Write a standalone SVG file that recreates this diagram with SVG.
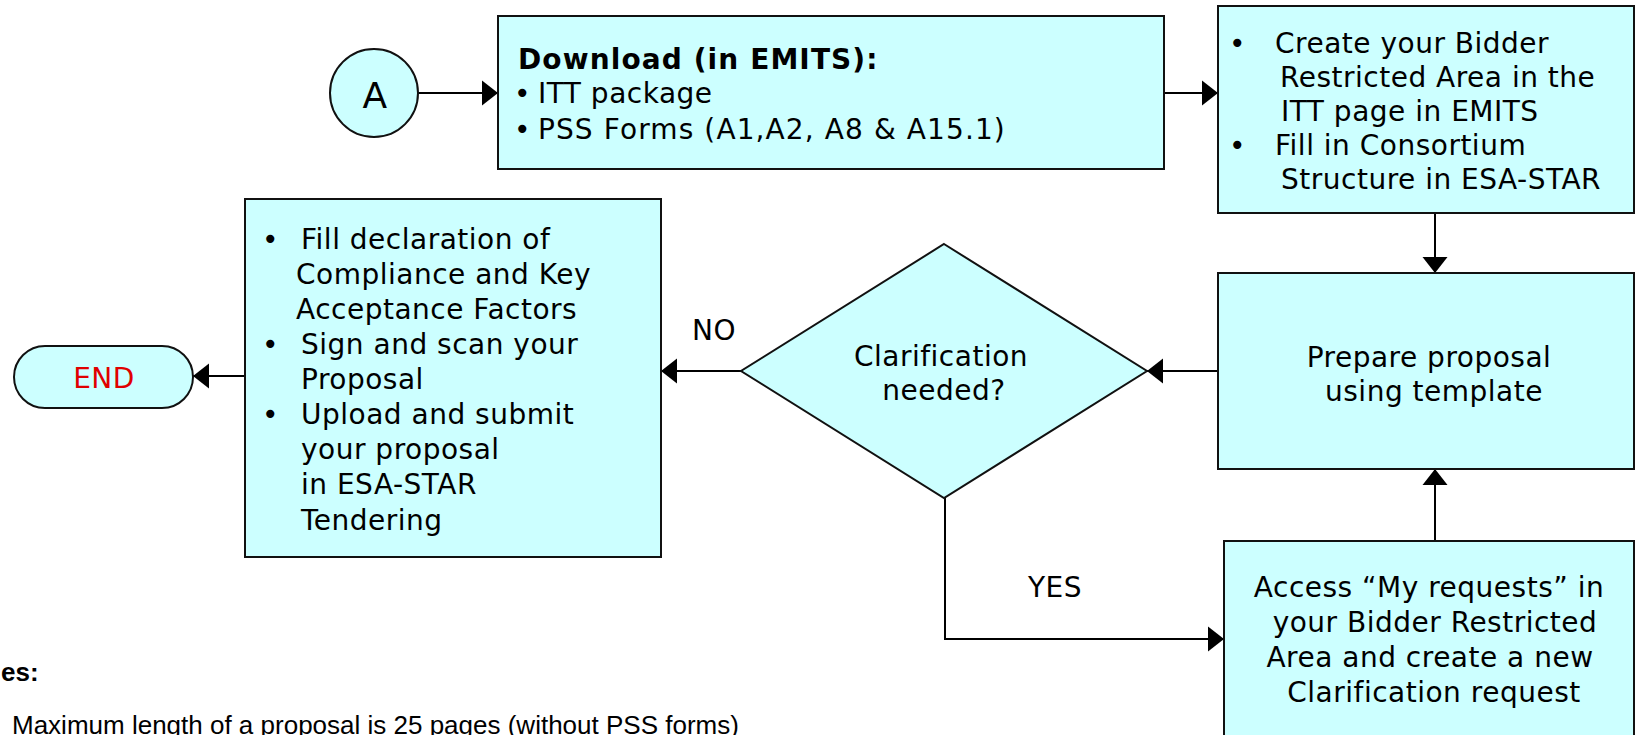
<svg xmlns="http://www.w3.org/2000/svg" width="1636" height="735" viewBox="0 0 1636 735">
<style>
.box{fill:#CCFFFF;stroke:#111;stroke-width:2}
.t{font-family:"DejaVu Sans",Verdana,sans-serif;font-size:28px;letter-spacing:0.5px;fill:#000}
.c{text-anchor:middle}
.b{font-weight:bold}
.w{letter-spacing:1.1px}
.con{fill:none;stroke:#000;stroke-width:2}
.n{font-family:"Liberation Sans",Arial,sans-serif;font-size:26px;fill:#000}
</style>
<defs>
<marker id="ah" viewBox="0 0 16 26" refX="16" refY="13" markerWidth="16" markerHeight="26" markerUnits="userSpaceOnUse" orient="auto">
<path d="M0,0.5 L16,13 L0,25.5 z" fill="#000"/>
</marker>
</defs>
<rect width="1636" height="735" fill="#fff"/>

<g id="connectors">
<line class="con" x1="418" y1="93" x2="498" y2="93" marker-end="url(#ah)"/>
<line class="con" x1="1164" y1="93" x2="1218" y2="93" marker-end="url(#ah)"/>
<line class="con" x1="1435" y1="213" x2="1435" y2="273" marker-end="url(#ah)"/>
<line class="con" x1="1218" y1="371" x2="1147" y2="371" marker-end="url(#ah)"/>
<line class="con" x1="741" y1="371" x2="661" y2="371" marker-end="url(#ah)"/>
<line class="con" x1="245" y1="376" x2="193" y2="376" marker-end="url(#ah)"/>
<polyline class="con" points="945,498 945,639 1224,639" marker-end="url(#ah)"/>
<line class="con" x1="1435" y1="541" x2="1435" y2="469" marker-end="url(#ah)"/>
<text class="t c" x="714" y="340">NO</text>
<text class="t c" x="1055" y="597">YES</text>
</g>

<g id="nodeA">
<circle class="box" cx="374" cy="93" r="44"/>
<text class="t c" x="375" y="108" style="font-size:36px">A</text>
</g>

<g id="download">
<rect class="box" x="498" y="16" width="666" height="153"/>
<text class="t b w" x="518" y="69">Download (in EMITS):</text>
<text class="t" x="514" y="103">•</text>
<text class="t" x="538" y="103">ITT package</text>
<text class="t" x="514" y="139">•</text>
<text class="t w" x="538" y="139">PSS Forms (A1,A2, A8 &amp; A15.1)</text>
</g>

<g id="bidderArea">
<rect class="box" x="1218" y="6" width="416" height="207"/>
<text class="t" x="1229" y="53">•</text>
<text class="t" x="1275" y="53">Create your Bidder</text>
<text class="t" x="1280" y="87">Restricted Area in the</text>
<text class="t" x="1281" y="121">ITT page in EMITS</text>
<text class="t" x="1229" y="155">•</text>
<text class="t" x="1275" y="155">Fill in Consortium</text>
<text class="t" x="1281" y="189">Structure in ESA-STAR</text>
</g>

<g id="prepare">
<rect class="box" x="1218" y="273" width="416" height="196"/>
<text class="t c" x="1429" y="367">Prepare proposal</text>
<text class="t c" x="1434" y="401">using template</text>
</g>

<g id="decision">
<polygon class="box" points="944,244 1147,371 944,498 741,371"/>
<text class="t c" x="941" y="366">Clarification</text>
<text class="t c" x="944" y="400">needed?</text>
</g>

<g id="submit">
<rect class="box" x="245" y="199" width="416" height="358"/>
<text class="t" x="262" y="249">•</text>
<text class="t" x="301" y="249">Fill declaration of</text>
<text class="t" x="296" y="284">Compliance and Key</text>
<text class="t" x="296" y="319">Acceptance Factors</text>
<text class="t" x="262" y="354">•</text>
<text class="t" x="301" y="354">Sign and scan your</text>
<text class="t" x="301" y="389">Proposal</text>
<text class="t" x="262" y="424">•</text>
<text class="t" x="301" y="424">Upload and submit</text>
<text class="t" x="301" y="459">your proposal</text>
<text class="t" x="301" y="494">in ESA-STAR</text>
<text class="t" x="301" y="530">Tendering</text>
</g>

<g id="end">
<rect class="box" x="14" y="346" width="179" height="62" rx="31" ry="31"/>
<text class="t c" x="104" y="388" style="fill:#E00000">END</text>
</g>

<g id="clarReq">
<rect class="box" x="1224" y="541" width="410" height="210"/>
<text class="t c" x="1429" y="597">Access “My requests” in</text>
<text class="t c" x="1435" y="632">your Bidder Restricted</text>
<text class="t c" x="1430" y="667">Area and create a new</text>
<text class="t c" x="1434" y="702">Clarification request</text>
</g>

<g id="notes">
<text class="n b" x="1" y="681">es:</text>
<text class="n" x="12" y="734">Maximum length of a proposal is 25 pages (without PSS forms)</text>
</g>
</svg>
